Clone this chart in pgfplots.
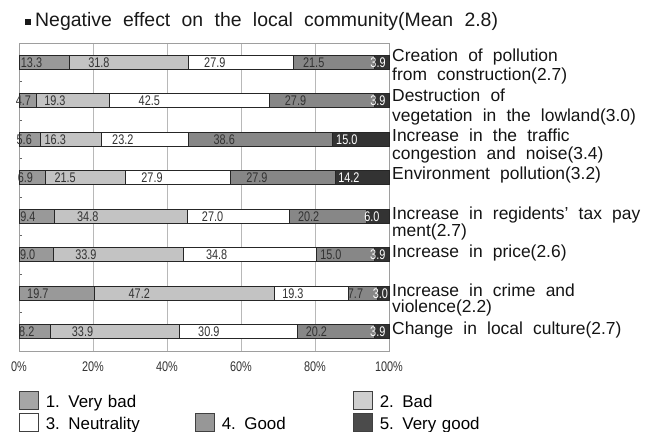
\documentclass[border=0pt]{standalone}
\usepackage{fontspec}
\setmainfont{Liberation Sans}[WordSpace=2.1]
\newfontfamily\narrowfont{Liberation Sans}[FakeStretch=0.78]
\usepackage{pgfplots}
\usepackage{pgfplotstable}
\pgfplotsset{compat=1.18}
\definecolor{cA}{HTML}{999999}
\definecolor{cB}{HTML}{C3C3C3}
\definecolor{cC}{HTML}{FFFFFF}
\definecolor{cD}{HTML}{878787}
\definecolor{cE}{HTML}{333333}
\definecolor{lA}{HTML}{A6A6A6}
\definecolor{lB}{HTML}{CFCFCF}
\definecolor{lD}{HTML}{979797}
\definecolor{lE}{HTML}{4B4B4B}
% x = share of the row (normalised to 100), lab = printed percentage
\pgfplotstableread{
y x lab
1 13.52 13.3
2 4.78 4.7
3 5.67 5.6
4 7.01 6.9
5 9.65 9.4
6 9.32 9.0
7 20.33 19.7
8 8.44 8.2
}\tA
\pgfplotstableread{
y x lab
1 32.32 31.8
2 19.63 19.3
3 16.51 16.3
4 21.85 21.5
5 35.73 34.8
6 35.09 33.9
7 48.71 47.2
8 34.91 33.9
}\tB
\pgfplotstableread{
y x lab
1 28.35 27.9
2 43.23 42.5
3 23.51 23.2
4 28.35 27.9
5 27.72 27.0
6 36.02 34.8
7 19.92 19.3
8 31.82 30.9
}\tC
\pgfplotstableread{
y x lab
1 21.85 21.5
2 28.38 27.9
3 39.11 38.6
4 28.35 27.9
5 20.74 20.2
6 15.53 15.0
7 7.95 7.7
8 20.80 20.2
}\tD
\pgfplotstableread{
y x lab
1 3.96 3.9
2 3.97 3.9
3 15.20 15.0
4 14.43 14.2
5 6.16 6.0
6 4.04 3.9
7 3.10 3.0
8 4.02 3.9
}\tE
\pgfplotsset{
  seg/.style={draw=black!85, line width=0.7bp, forget plot,
    point meta=explicit symbolic,
    visualization depends on={rawx \as \segw},
    nodes near coords,
    every node near coord/.append style={anchor=center, xshift=-0.925bp*\segw,
      font=\narrowfont\fontsize{14}{14}\selectfont, text=black!80, inner sep=0pt}},
}
\begin{document}
\begin{tikzpicture}
\begin{axis}[
  at={(19bp,81bp)}, anchor=south west,
  scale only axis, width=370bp, height=308bp,
  xmin=0, xmax=100, ymin=0.5, ymax=8.5, y dir=reverse,
  xbar stacked, bar width=14bp,
  xtick={0,20,40,60,80,100},
  xticklabels={0\%,20\%,40\%,60\%,80\%,100\%},
  xticklabel style={font=\narrowfont\fontsize{14}{14}\selectfont, text=black!80, anchor=center, yshift=-16bp},
  xtick pos=bottom, ytick pos=left,
  x tick style={draw=none},
  ytick={1.5,2.5,3.5,4.5,5.5,6.5,7.5}, yticklabels={},
  y tick style={draw=black!60, line width=0.8bp},
  major tick length=3bp, tick align=inside,
  xmajorgrids, major grid style={draw=black!28, line width=0.8bp},
  axis line style={draw=black!38, line width=0.8bp},
  clip=false,
  legend columns=3, legend cell align=left,
  legend image code/.code={\draw[#1] (0bp,-1.7bp) rectangle (19bp,16bp);},
  legend style={at={(axis description cs:0,-0.1295)}, anchor=north west,
    draw=none, fill=none, inner sep=0pt, outer sep=0pt,
    font=\fontsize{17}{17}\selectfont, row sep=1.6bp,
    nodes={inner sep=0pt, text width=120bp, align=left, text height=13bp, text depth=4bp, anchor=base west},
    /tikz/column 1/.style={column sep=7bp},
    /tikz/column 2/.style={column sep=29.2bp},
    /tikz/column 3/.style={column sep=7bp},
    /tikz/column 4/.style={column sep=11.2bp},
    /tikz/column 5/.style={column sep=7bp}},
]
\addplot[fill=cA, seg] table[x=x, y=y, meta=lab] {\tA};
\addplot[fill=cB, seg] table[x=x, y=y, meta=lab] {\tB};
\addplot[fill=cC, seg] table[x=x, y=y, meta=lab] {\tC};
\addplot[fill=cD, seg] table[x=x, y=y, meta=lab] {\tD};
\addplot[fill=cE, seg,
  every node near coord/.append style={text=white}] table[x=x, y=y, meta=lab] {\tE};
\addlegendimage{fill=lA, draw=black!75, line width=0.8bp}
\addlegendentry{1. Very bad}
\addlegendimage{empty legend}
\addlegendentry{}
\addlegendimage{fill=lB, draw=black!75, line width=0.8bp}
\addlegendentry{2. Bad}
\addlegendimage{fill=white, draw=black!75, line width=0.8bp}
\addlegendentry{3. Neutrality}
\addlegendimage{fill=lD, draw=black!75, line width=0.8bp}
\addlegendentry{4. Good}
\addlegendimage{fill=lE, draw=black!75, line width=0.8bp}
\addlegendentry{5. Very good}
\end{axis}
\node[anchor=base west, inner sep=0pt, font=\fontsize{19.5}{19.5}\selectfont, text=black!90] at (24.5bp,405bp)
  {\raisebox{2bp}{\rule{6bp}{6bp}}\hspace{4.5bp}Negative effect on the local community(Mean 2.8)};
\begin{scope}[every node/.style={anchor=base west, inner sep=0pt, font=\fontsize{17.5}{17.5}\selectfont, text=black!92}]
\node at (392bp,370.5bp) {Creation of pollution};
\node at (392bp,351bp) {from construction(2.7)};
\node at (392bp,330.5bp) {Destruction of};
\node at (392bp,310.5bp) {vegetation in the lowland(3.0)};
\node at (392bp,290.5bp) {Increase in the traffic};
\node at (392bp,272bp) {congestion and noise(3.4)};
\node at (392bp,252bp) {Environment pollution(3.2)};
\node at (392bp,212bp) {Increase in regidents’ tax pay};
\node at (392bp,195.5bp) {ment(2.7)};
\node at (392bp,174bp) {Increase in price(2.6)};
\node at (392bp,135.5bp) {Increase in crime and};
\node at (392bp,119bp) {violence(2.2)};
\node at (392bp,97bp) {Change in local culture(2.7)};
\end{scope}
\pgfresetboundingbox
\path (0bp,0bp) rectangle (653bp,432bp);
\end{tikzpicture}
\end{document}
